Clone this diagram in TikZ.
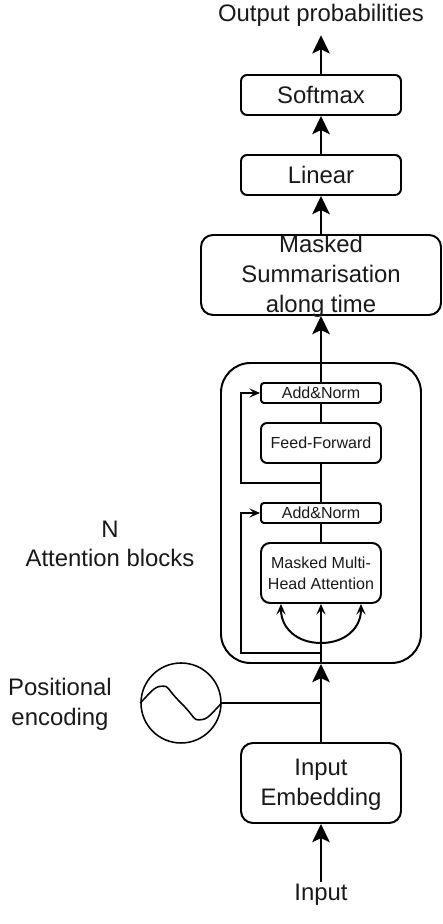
\documentclass[tikz,border=0pt]{standalone}
\usepackage{fontspec}
\setmainfont{Liberation Sans}
\usetikzlibrary{arrows.meta}
\newcommand{\lowerline}{\rule{0pt}{14.2pt}}
\tikzset{
    bigtext/.style={font=\fontsize{17}{21}\selectfont, align=center, text=black!90},
    smalltext/.style={font=\fontsize{11.4}{15}\selectfont, align=center, text=black!90},
    blockbox/.style={draw, line width=1.4pt, rounded corners=4.3pt, inner sep=0pt, bigtext},
    smallbox/.style={draw, line width=1.4pt, rounded corners=4.3pt, inner sep=0pt, smalltext},
    link/.style={line width=1.4pt},
    bigarrow/.style={line width=1.4pt, -{Stealth[length=13pt, width=12.5pt, inset=3pt]}},
    smallarrow/.style={line width=1.4pt, -{Stealth[length=7.5pt, width=6.5pt, inset=3pt]}}
}
\begin{document}
\begin{tikzpicture}
    \useasboundingbox (0,0) rectangle (11.05,23.1);
    % Output side
    \node [bigtext, inner sep=0pt, minimum height=1cm] (output) at (8.025,22.725) {Output probabilities};
    \node [blockbox, minimum width=4cm, minimum height=1cm] (softmax) at (8.025,20.725) {Softmax};
    \node [blockbox, minimum width=4cm, minimum height=1cm] (linear) at (8.025,18.725) {Linear};
    \node [blockbox, rounded corners=8.5pt, inner ysep=-6pt, minimum width=6cm, minimum height=2cm] (summ) at (8.025,16.225) {\lowerline Masked\\Summarisation\\along time};
    % Attention blocks
    \node [draw, line width=1.4pt, rounded corners=21pt, minimum width=5cm, minimum height=7.5cm] (blocks) at (8.025,10.275) {};
    \node [smallbox, rounded corners=2.1pt, minimum width=3cm, minimum height=0.5cm] (addtop) at (8.025,13.275) {Add\&Norm};
    \node [smallbox, minimum width=3cm, minimum height=1cm] (feed) at (8.025,12.025) {Feed-Forward};
    \node [smallbox, rounded corners=2.1pt, minimum width=3cm, minimum height=0.5cm] (addlow) at (8.025,10.275) {Add\&Norm};
    \node [smallbox, rounded corners=6.4pt, minimum width=3cm, minimum height=1.5cm] (attn) at (8.025,8.775) {Masked Multi-\\Head Attention};
    \node [bigtext] (nblocks) at (2.75,9.5) {N\\Attention blocks};
    % Input side
    \node [blockbox, rounded corners=8.5pt, minimum width=4cm, minimum height=2cm] (embed) at (8.025,3.525) {\lowerline Input\\Embedding};
    \node [bigtext, inner sep=0pt, minimum height=0.65cm] (input) at (8.025,0.725) {Input};
    % Positional encoding
    \node [draw, circle, line width=1.1pt, minimum size=2cm, inner sep=0pt] (posenc) at (4.525,5.525) {};
    \node [bigtext] (poslabel) at (1.5,5.525) {\lowerline Positional\\encoding};
    \draw [line width=1.1pt] (posenc.west) .. controls +(0.25,0.25) and +(-0.2,0) .. ([shift={(-0.475,0.42)}]posenc.center)
        .. controls +(0.2,0) and +(-0.4,0.4) .. (posenc.center)
        .. controls +(0.4,-0.4) and +(-0.2,0) .. ([shift={(0.475,-0.42)}]posenc.center)
        .. controls +(0.2,0) and +(-0.25,-0.25) .. (posenc.east);
    % Main line
    \draw [bigarrow] (input) -- (embed);
    \draw [bigarrow] (embed) -- (blocks.south -| embed.north);
    \draw [link] (posenc.east) -- (posenc.east -| embed.north);
    \draw [smallarrow] (blocks.south -| attn.south) -- (attn.south);
    \draw [link] (attn) -- (addlow);
    \draw [link] (addlow) -- (feed);
    \draw [link] (feed) -- (addtop);
    \draw [bigarrow] (addtop.north) -- (summ.south);
    \draw [bigarrow] (summ.north -| linear.south) -- (linear.south);
    \draw [bigarrow] (linear.north) -- (softmax.south);
    \draw [bigarrow] (softmax.north) -- (output.south);
    % Skip connections
    \coordinate (skiplow) at (8.025,6.775);
    \coordinate (turnlow) at (6.025,6.775);
    \coordinate (skiptop) at (8.025,11.025);
    \coordinate (turntop) at (6.025,11.025);
    \draw [smallarrow] (skiplow) -- (turnlow) |- (addlow.west);
    \draw [smallarrow] (skiptop) -- (turntop) |- (addtop.west);
    % Query and key inputs
    \coordinate (split) at (8.025,7.025);
    \draw [smallarrow] (split) to [out=180, in=-90, looseness=1.1] ([xshift=-1cm]attn.south);
    \draw [smallarrow] (split) to [out=0, in=-90, looseness=1.1] ([xshift=1cm]attn.south);
\end{tikzpicture}
\end{document}
